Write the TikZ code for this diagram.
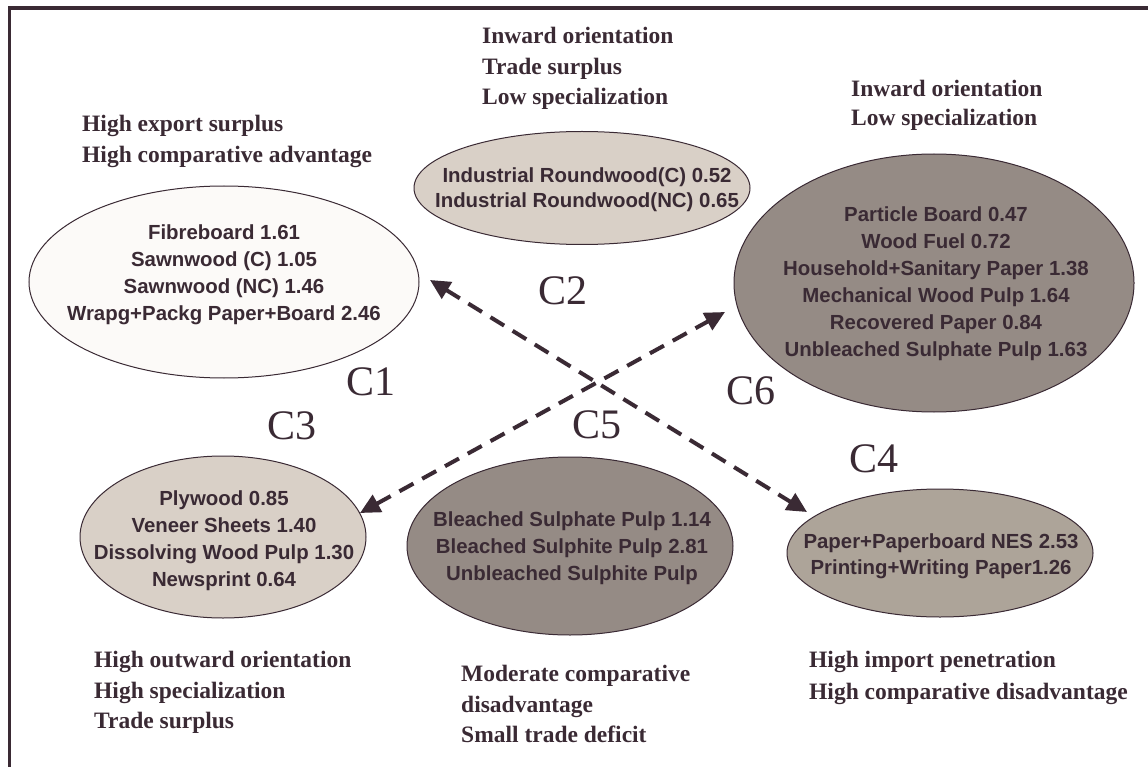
\documentclass[tikz,border=0pt]{standalone}
\usepackage{fontspec}
\setmainfont{Liberation Serif}
\newfontfamily\arialf{Liberation Sans}
\usetikzlibrary{shapes.geometric,arrows.meta}
\definecolor{ink}{HTML}{3A2A34}
\definecolor{fillA}{HTML}{FCFAF8}
\definecolor{fillB}{HTML}{D9D0C7}
\definecolor{fillC}{HTML}{ADA499}
\definecolor{fillD}{HTML}{958B85}
\begin{document}
\begin{tikzpicture}[x=1pt,y=-1pt,
  blob/.style={ellipse, draw=ink, line width=1pt, inner sep=0pt},
  itemtext/.style={font=\arialf\bfseries\fontsize{20.4}{27}\selectfont, text=ink, align=center, inner sep=0pt},
  note/.style={font=\bfseries\fontsize{23.5}{30.5}\selectfont, text=ink, align=left, anchor=west, inner sep=0pt},
  clabel/.style={font=\fontsize{42}{42}\selectfont, text=ink, inner sep=0pt},
  link/.style={draw=ink, line width=4pt, dash pattern=on 16pt off 10pt,
    {Triangle[length=20pt,width=19pt]}-{Triangle[length=20pt,width=19pt]}}
]
\useasboundingbox (0,0) rectangle (1148,767);
\fill[white] (0,0) rectangle (1148,767);
% frame
\draw[ink, line width=3.5pt] (9.5,790) |- (1170,7.8);

% ellipses
\node[blob, fill=fillA, minimum width=390pt, minimum height=192pt] (c1) at (224,282) {};
\node[blob, fill=fillB, minimum width=336pt, minimum height=113pt] (c2) at (582,188) {};
\node[blob, fill=fillD, minimum width=400pt, minimum height=258pt] (c6) at (934,283) {};
\node[blob, fill=fillB, minimum width=286pt, minimum height=162pt] (c3) at (223,537) {};
\node[blob, fill=fillD, minimum width=326pt, minimum height=178pt] (c5) at (570,546) {};
\node[blob, fill=fillC, minimum width=306pt, minimum height=128pt] (c4) at (940,553) {};

% ellipse texts
\node[itemtext] (t1) at (224,274.5) {Fibreboard 1.61\\Sawnwood (C) 1.05\\Sawnwood (NC) 1.46\\Wrapg+Packg Paper+Board 2.46};
\node[itemtext, font=\arialf\bfseries\fontsize{20.4}{25.5}\selectfont] (t2) at (587,189.5) {Industrial Roundwood(C) 0.52\\Industrial Roundwood(NC) 0.65};
\node[itemtext] (t6) at (936,283.5) {Particle Board 0.47\\Wood Fuel 0.72\\Household+Sanitary Paper 1.38\\Mechanical Wood Pulp 1.64\\Recovered Paper 0.84\\Unbleached Sulphate Pulp 1.63};
\node[itemtext] (t3) at (224,540.5) {Plywood 0.85\\Veneer Sheets 1.40\\Dissolving Wood Pulp 1.30\\Newsprint 0.64};
\node[itemtext] (t5) at (572,548) {Bleached Sulphate Pulp 1.14\\Bleached Sulphite Pulp 2.81\\Unbleached Sulphite Pulp};
\node[itemtext, font=\arialf\bfseries\fontsize{20.4}{26}\selectfont] (t4) at (941,556.5) {Paper+Paperboard NES 2.53\\Printing+Writing Paper1.26};

% cluster labels
\node[clabel] (l1) at (371,382) {C1};
\node[clabel] (l2) at (563,291) {C2};
\node[clabel] (l3) at (292,426) {C3};
\node[clabel] (l4) at (874,459) {C4};
\node[clabel] (l5) at (597,425) {C5};
\node[clabel] (l6) at (751,391) {C6};

% notes
\node[note] (n1) at (82,141.5) {High export surplus\\High comparative advantage};
\node[note] (n2) at (482,68.5) {Inward orientation\\Trade surplus\\Low specialization};
\node[note, font=\bfseries\fontsize{23.5}{28.5}\selectfont] (n6) at (851,105.5) {Inward orientation\\Low specialization};
\node[note] (n3) at (94,692.5) {High outward orientation\\High specialization\\Trade surplus};
\node[note] (n5) at (461,704) {Moderate comparative\\disadvantage\\Small trade deficit};
\node[note, font=\bfseries\fontsize{23.5}{32}\selectfont] (n4) at (809,677.5) {High import penetration\\High comparative disadvantage};

% connectors
\draw[link] ([shift={(206,-2)}]c1.center) -- ([shift={(-133,-41)}]c4.center);
\draw[link] ([shift={(137,-24)}]c3.center) -- ([shift={(-209,29)}]c6.center);
\end{tikzpicture}
\end{document}
